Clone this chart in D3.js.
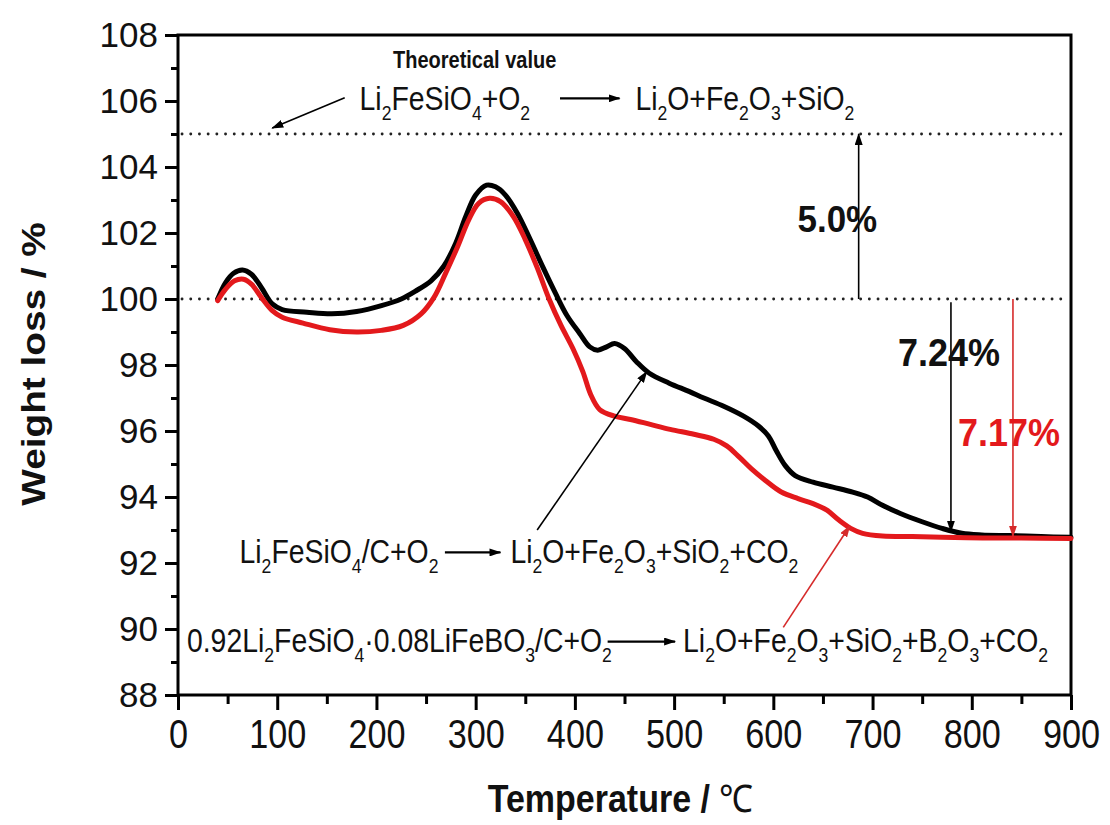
<!DOCTYPE html>
<html>
<head>
<meta charset="utf-8">
<script src="https://cdn.jsdelivr.net/npm/d3@7"></script>
<style>
  body { margin: 0; background: #fff; }
  svg { display: block; }
</style>
</head>
<body>
<svg id="chart"></svg>
<script>
// Li2FeSiO4/C (black)
const tempBlack = [40, 48, 56, 65, 74, 84, 95, 105, 130, 155, 180, 205, 225, 240, 255, 268, 280, 290, 300, 311,
  320, 330, 342, 355, 368, 380, 392, 405, 415, 423, 432, 440, 450, 462, 475, 495, 515, 530, 550, 570,
  585, 595, 603, 612, 622, 640, 660, 680, 695, 710, 728, 750, 770, 790, 810, 840, 870, 900];
const weightBlack = [100.0, 100.5, 100.78, 100.88, 100.75, 100.35, 99.85, 99.68, 99.6, 99.55, 99.62, 99.8, 100.0, 100.25, 100.55, 101.0, 101.7, 102.5, 103.15, 103.45,
  103.4, 103.15, 102.6, 101.8, 100.95, 100.2, 99.5, 98.95, 98.55, 98.45, 98.55, 98.65, 98.5, 98.1, 97.75, 97.45, 97.2, 97.0, 96.75, 96.45,
  96.15, 95.85, 95.4, 94.95, 94.65, 94.45, 94.3, 94.15, 94.0, 93.75, 93.5, 93.25, 93.05, 92.9, 92.85, 92.83, 92.8, 92.78];

// 0.92Li2FeSiO4·0.08LiFeBO3/C (red)
const tempRed = [40, 48, 57, 66, 74, 84, 95, 105, 126, 153, 180, 205, 227, 245, 258, 270, 282, 293, 303, 314,
  325, 338, 350, 362, 374, 386, 398, 408, 416, 425, 440, 456, 476, 496, 520, 540, 553, 566, 578, 592,
  608, 625, 640, 654, 666, 678, 690, 710, 740, 770, 811, 850, 900];
const weightRed = [99.95, 100.3, 100.55, 100.6, 100.45, 100.05, 99.65, 99.45, 99.27, 99.07, 99.0, 99.05, 99.2, 99.55, 100.05, 100.8, 101.6, 102.4, 102.9, 103.05,
  102.95, 102.5, 101.8, 100.95, 100.0, 99.2, 98.5, 97.8, 97.1, 96.65, 96.45, 96.35, 96.2, 96.05, 95.9, 95.75, 95.55, 95.2, 94.85, 94.5,
  94.15, 93.95, 93.8, 93.6, 93.3, 93.05, 92.9, 92.82, 92.8, 92.78, 92.76, 92.76, 92.74];

const xTicks = [0, 100, 200, 300, 400, 500, 600, 700, 800, 900];
const xMinor = [50, 150, 250, 350, 450, 550, 650, 750, 850];
const yTicks = [88, 90, 92, 94, 96, 98, 100, 102, 104, 106, 108];
const yMinor = [89, 91, 93, 95, 97, 99, 101, 103, 105, 107];
const refLevels = [100, 105];

const width = 1110, height = 825;
const margin = { top: 35, right: 39, bottom: 130, left: 178 };
const red = "#e3191c";
const sans = "'Liberation Sans', Arial, Helvetica, sans-serif";
const squeeze = 0.835; // the original lettering is condensed

const svg = d3.select("#chart")
  .attr("width", width)
  .attr("height", height)
  .attr("viewBox", [0, 0, width, height]);

const x = d3.scaleLinear().domain([0, 900]).range([margin.left, width - margin.right]);
const y = d3.scaleLinear().domain([88, 108]).range([height - margin.bottom, margin.top]);

// arrow heads
const defs = svg.append("defs");
[["headBlack", "#000"], ["headRed", "#d62b2b"]].forEach(([id, c]) => {
  defs.append("marker")
    .attr("id", id)
    .attr("viewBox", "0 0 12 8")
    .attr("refX", 11).attr("refY", 4)
    .attr("markerWidth", 12).attr("markerHeight", 8)
    .attr("markerUnits", "userSpaceOnUse")
    .attr("orient", "auto")
    .append("path").attr("d", "M0,0L12,4L0,8Z").attr("fill", c);
});

// bottom axis, major + minor
const gx = svg.append("g")
  .attr("transform", `translate(0,${height - margin.bottom})`)
  .call(d3.axisBottom(x).tickValues(xTicks).tickSize(15).tickPadding(9).tickFormat(d3.format("d")));
svg.append("g")
  .attr("transform", `translate(0,${height - margin.bottom})`)
  .call(d3.axisBottom(x).tickValues(xMinor).tickSize(9).tickFormat(""));

// left axis, major + minor
const gy = svg.append("g")
  .attr("transform", `translate(${margin.left},0)`)
  .call(d3.axisLeft(y).tickValues(yTicks).tickSize(13).tickPadding(7));
svg.append("g")
  .attr("transform", `translate(${margin.left},0)`)
  .call(d3.axisLeft(y).tickValues(yMinor).tickSize(7).tickFormat(""));

svg.selectAll(".domain").remove();
svg.selectAll(".tick line").attr("stroke", "#000").attr("stroke-width", 3);
gx.selectAll(".tick text")
  .attr("font-family", sans).attr("font-size", 41).attr("fill", "#111")
  .attr("transform", `scale(${squeeze},1)`);
gy.selectAll(".tick text")
  .attr("font-family", sans).attr("font-size", 35).attr("fill", "#111");

// frame
svg.append("rect")
  .attr("x", x(0)).attr("y", y(108))
  .attr("width", x(900) - x(0)).attr("height", y(88) - y(108))
  .attr("fill", "none").attr("stroke", "#000").attr("stroke-width", 3);

// dotted reference lines
svg.append("g")
  .selectAll("line")
  .data(refLevels)
  .join("line")
    .attr("x1", x(0) + 4).attr("x2", x(900) - 2)
    .attr("y1", d => y(d)).attr("y2", d => y(d))
    .attr("stroke", "#222")
    .attr("stroke-width", 2.8)
    .attr("stroke-linecap", "round")
    .attr("stroke-dasharray", "0.1,8.6");

// curves
const line = d3.line()
  .x(d => x(d[0]))
  .y(d => y(d[1]))
  .curve(d3.curveCatmullRom.alpha(0.5));

const series = [
  { color: "#000", pts: d3.zip(tempBlack, weightBlack) },
  { color: red, pts: d3.zip(tempRed, weightRed) }
];
svg.append("g")
  .attr("fill", "none")
  .attr("stroke-width", 5)
  .attr("stroke-linejoin", "round")
  .attr("stroke-linecap", "round")
  .selectAll("path")
  .data(series)
  .join("path")
    .attr("stroke", d => d.color)
    .attr("d", d => line(d.pts));

// annotation arrows [t1, w1, t2, w2, marker, colour, width]
const arrows = [
  [168, 106.1, 95, 105.18, "headBlack", "#000", 1.6],   // to theoretical line
  [686, 100, 686, 105, "headBlack", "#000", 1.6],       // 5.0 %
  [779, 99.9, 779, 92.95, "headBlack", "#000", 1.6],    // 7.24 %
  [841.5, 100, 841.5, 92.8, "headRed", "#d62b2b", 1.6], // 7.17 %
  [362, 93.0, 472.5, 97.8, "headBlack", "#000", 1.6],   // pointer to black
  [610, 90.05, 677, 93.12, "headRed", "#d62b2b", 1.6],  // pointer to red
  [385, 106.08, 445, 106.08, "headBlack", "#000", 2.2], // reaction arrows
  [269, 92.32, 325, 92.32, "headBlack", "#000", 2.2],
  [433, 89.62, 501, 89.62, "headBlack", "#000", 2.2]
];
svg.append("g")
  .selectAll("line")
  .data(arrows)
  .join("line")
    .attr("x1", d => x(d[0])).attr("y1", d => y(d[1]))
    .attr("x2", d => x(d[2])).attr("y2", d => y(d[3]))
    .attr("stroke", d => d[5])
    .attr("stroke-width", d => d[6])
    .attr("marker-end", d => `url(#${d[4]})`);

// chemical formula text with subscripts, "_n" marks a subscript
function formula(str, t, w, size) {
  const text = svg.append("g")
    .attr("transform", `translate(${x(t)},${y(w)}) scale(${squeeze},1)`)
    .append("text")
    .attr("font-family", sans)
    .attr("font-size", size)
    .attr("fill", "#111");
  const parts = str.split(/_(\d)/);
  let shift = 0;
  parts.forEach((p, i) => {
    if (!p) return;
    if (i % 2 === 1) {
      text.append("tspan").attr("font-size", size * 0.62).attr("dy", size * 0.3).text(p);
      shift = size * 0.3;
    } else {
      text.append("tspan").attr("dy", -shift).text(p);
      shift = 0;
    }
  });
}

const formulas = [
  ["Li_2FeSiO_4+O_2", 183, 105.72],
  ["Li_2O+Fe_2O_3+SiO_2", 461, 105.72],
  ["Li_2FeSiO_4/C+O_2", 62, 92.0],
  ["Li_2O+Fe_2O_3+SiO_2+CO_2", 335, 92.0],
  ["0.92Li_2FeSiO_4·0.08LiFeBO_3/C+O_2", 9, 89.3],
  ["Li_2O+Fe_2O_3+SiO_2+B_2O_3+CO_2", 509, 89.3]
];
formulas.forEach(([s, t, w]) => formula(s, t, w, 34));

// bold labels [text, t, w, size, colour, vertical stretch]
const labels = [
  ["Theoretical value", 299, 107.0, 20, "#111", 1.15],
  ["5.0%", 664.5, 102.02, 35, "#111", 1.08],
  ["7.24%", 777, 97.97, 36, "#111", 1.1],
  ["7.17%", 837.5, 95.55, 36, red, 1.1]
];
svg.append("g")
  .attr("font-family", sans)
  .attr("font-weight", "bold")
  .attr("text-anchor", "middle")
  .selectAll("text")
  .data(labels)
  .join("text")
    .attr("transform", d => `translate(${x(d[1])},${y(d[2])}) scale(1,${d[5]})`)
    .attr("font-size", d => d[3])
    .attr("fill", d => d[4])
    .text(d => d[0]);

// axis titles
svg.append("text")
  .attr("transform", `translate(${x(450) - 4},${height - 13}) scale(1,1.12)`)
  .attr("text-anchor", "middle")
  .attr("font-family", sans).attr("font-weight", "bold").attr("font-size", 34)
  .attr("fill", "#111")
  .call(t => t.append("tspan").text("Temperature / "))
  .call(t => t.append("tspan").attr("font-weight", "normal").text("℃"));

svg.append("text")
  .attr("transform", `translate(45,${y(98) - 1}) rotate(-90) scale(1.14,1)`)
  .attr("text-anchor", "middle")
  .attr("font-family", sans).attr("font-weight", "bold").attr("font-size", 34)
  .attr("fill", "#111")
  .text("Weight loss / %");
</script>
</body>
</html>
